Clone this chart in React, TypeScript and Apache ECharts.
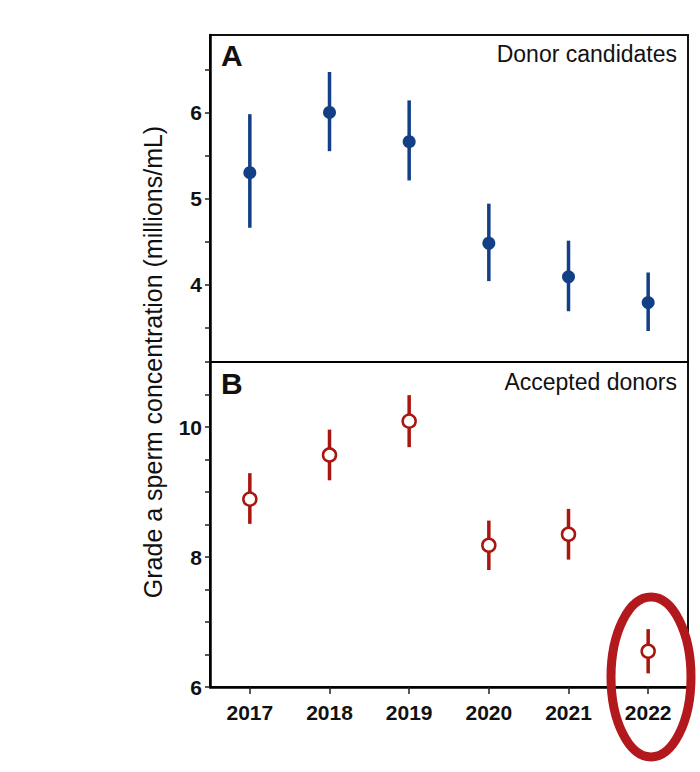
import React, { useEffect, useRef } from "react";
import * as echarts from "echarts";

const years = ["2017", "2018", "2019", "2020", "2021", "2022"];
const candMean = [5.3, 6.0, 5.66, 4.48, 4.09, 3.79];
const candLow = [4.66, 5.55, 5.21, 4.04, 3.69, 3.46];
const candHigh = [5.98, 6.47, 6.14, 4.94, 4.51, 4.14];
const accMean = [8.89, 9.57, 10.09, 8.18, 8.35, 6.55];
const accLow = [8.51, 9.18, 9.69, 7.8, 7.96, 6.21];
const accHigh = [9.29, 9.96, 10.49, 8.56, 8.74, 6.89];

const candTicks = [3.5, 4, 4.5, 5, 5.5, 6, 6.5];
const candLabels = [4, 5, 6];
const accTicks = [6, 6.5, 7, 7.5, 8, 8.5, 9, 9.5, 10, 10.5, 11];
const accLabels = [6, 8, 10];

const BLUE = "#133f86";
const RED = "#a8160f";
const FONT = "'Liberation Sans', Arial, Helvetica, sans-serif";

function errRender(color: string) {
  return (params: any, api: any) => {
    const x = api.value(0);
    const lo = api.coord([x, api.value(1)]);
    const hi = api.coord([x, api.value(2)]);
    return {
      type: "line",
      shape: { x1: lo[0], y1: lo[1], x2: hi[0], y2: hi[1] },
      style: { stroke: color, lineWidth: 3.5 },
    };
  };
}

export default function App() {
  const ref = useRef<HTMLDivElement>(null);
  useEffect(() => {
    document.body.style.margin = "0";
    const chart = echarts.init(ref.current!, null, { renderer: "svg" });
    const yCommon = {
      type: "value",
      axisLine: { show: true, lineStyle: { color: "#000", width: 2.5 } },
      axisTick: { show: true, length: 5, lineStyle: { color: "#222", width: 1.5 } },
      axisLabel: { color: "#111", fontSize: 21, fontWeight: "bold", fontFamily: FONT, margin: 8 },
      splitLine: { show: false },
    };
    chart.setOption({
      animation: false,
      backgroundColor: "#fff",
      grid: [
        { left: 210, right: 12, top: 35, height: 327, show: true, borderColor: "#111", borderWidth: 2 },
        { left: 210, right: 12, top: 362, height: 325, show: true, borderColor: "#111", borderWidth: 2 },
      ],
      xAxis: [
        {
          type: "category",
          gridIndex: 0,
          data: years,
          axisLine: { show: true, lineStyle: { color: "#000", width: 2 } },
          axisTick: { show: false },
          axisLabel: { show: false },
        },
        {
          type: "category",
          gridIndex: 1,
          data: years,
          axisLine: { show: true, lineStyle: { color: "#000", width: 2.5 } },
          axisTick: { show: true, alignWithLabel: true, length: 7, lineStyle: { color: "#222", width: 1.5 } },
          axisLabel: { color: "#111", fontSize: 21, fontWeight: "bold", fontFamily: FONT, margin: 15 },
        },
      ],
      yAxis: [
        {
          ...yCommon,
          gridIndex: 0,
          min: 3.1,
          max: 6.9,
          axisTick: { ...yCommon.axisTick, customValues: candTicks },
          axisLabel: { ...yCommon.axisLabel, customValues: candLabels },
        },
        {
          ...yCommon,
          gridIndex: 1,
          min: 6,
          max: 11,
          axisTick: { ...yCommon.axisTick, customValues: accTicks },
          axisLabel: { ...yCommon.axisLabel, customValues: accLabels },
        },
      ],
      series: [
        {
          type: "custom",
          xAxisIndex: 0,
          yAxisIndex: 0,
          renderItem: errRender(BLUE),
          data: years.map((_, i) => [i, candLow[i], candHigh[i]]),
          z: 2,
        },
        {
          type: "scatter",
          xAxisIndex: 0,
          yAxisIndex: 0,
          symbol: "circle",
          symbolSize: 13,
          itemStyle: { color: BLUE, opacity: 1 },
          data: candMean,
          z: 3,
        },
        {
          type: "custom",
          xAxisIndex: 1,
          yAxisIndex: 1,
          renderItem: errRender(RED),
          data: years.map((_, i) => [i, accLow[i], accHigh[i]]),
          z: 2,
        },
        {
          type: "scatter",
          xAxisIndex: 1,
          yAxisIndex: 1,
          symbol: "circle",
          symbolSize: 13,
          itemStyle: { color: "#fff", borderColor: RED, borderWidth: 2.5, opacity: 1 },
          data: accMean,
          z: 3,
        },
      ],
      graphic: [
        {
          type: "text",
          left: 221,
          top: 40,
          style: { text: "A", fontSize: 30, fontWeight: "bold", fontFamily: FONT, fill: "#111" },
        },
        {
          type: "text",
          left: 221,
          top: 368,
          style: { text: "B", fontSize: 30, fontWeight: "bold", fontFamily: FONT, fill: "#111" },
        },
        {
          type: "text",
          right: 23,
          top: 42,
          style: { text: "Donor candidates", fontSize: 23, fontFamily: FONT, fill: "#111" },
        },
        {
          type: "text",
          right: 23,
          top: 370,
          style: { text: "Accepted donors", fontSize: 23, fontFamily: FONT, fill: "#111" },
        },
        {
          type: "text",
          x: 153,
          y: 362,
          rotation: Math.PI / 2,
          style: {
            text: "Grade a sperm concentration (millions/mL)",
            fontSize: 25,
            fontFamily: FONT,
            fill: "#111",
            align: "center",
            verticalAlign: "middle",
          },
        },
        {
          type: "ellipse",
          shape: { cx: 651, cy: 677, rx: 40, ry: 80 },
          style: { fill: "none", stroke: "#b3191c", lineWidth: 9 },
          z: 10,
        },
      ],
    });
    return () => chart.dispose();
  }, []);
  return <div ref={ref} style={{ width: 700, height: 772 }} />;
}
